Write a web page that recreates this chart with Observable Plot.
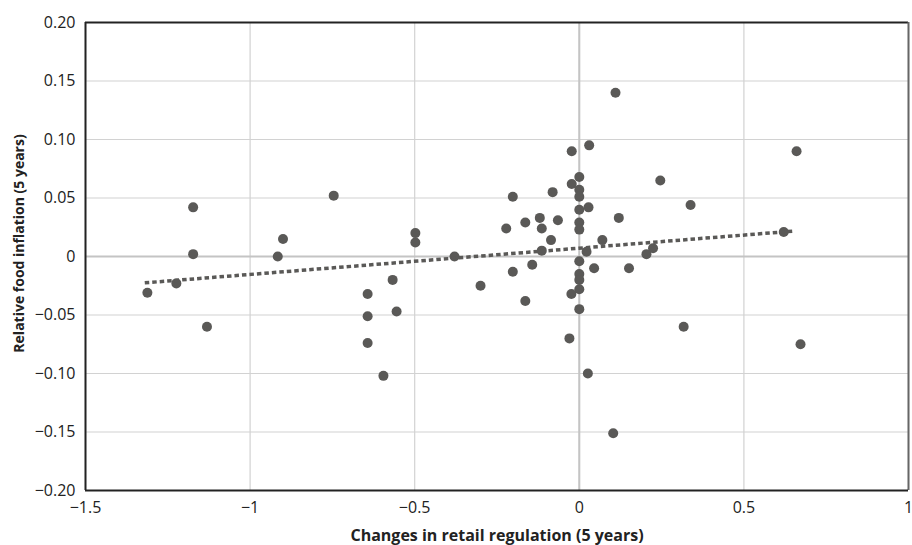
<!DOCTYPE html>
<html>
<head>
<meta charset="utf-8">
<script src="https://cdn.jsdelivr.net/npm/d3@7"></script>
<script src="https://cdn.jsdelivr.net/npm/@observablehq/plot@0.6"></script>
<style>
  html, body { margin: 0; padding: 0; background: #fff; }
  #chart { width: 912px; height: 545px; }
</style>
</head>
<body>
<div id="chart"></div>
<script>
// Changes in retail regulation (5 years)
const regChange = [
  -1.312, -1.224, -1.173, -1.173, -1.131, -0.916, -0.900, -0.746, -0.498, -0.498,
  -0.567, -0.643, -0.643, -0.643, -0.555, -0.595, -0.379, 0.110, 0.030, -0.023,
  0.660, 0.000, -0.023, 0.000, 0.000, 0.246, 0.338, -0.202, -0.081, 0.000,
  0.028, 0.120, -0.164, -0.120, -0.065, -0.222, -0.114, 0.000, 0.000, -0.086,
  0.070, -0.114, 0.022, 0.224, 0.204, 0.621, 0.000, -0.202, -0.143, 0.045,
  0.151, 0.000, 0.000, 0.000, -0.024, -0.300, -0.164, 0.000, -0.030, 0.317,
  0.672, 0.026, 0.103
];
// Relative food inflation (5 years)
const foodInflation = [
  -0.031, -0.023, 0.002, 0.042, -0.060, 0.000, 0.015, 0.052, 0.020, 0.012,
  -0.020, -0.032, -0.051, -0.074, -0.047, -0.102, 0.000, 0.140, 0.095, 0.090,
  0.090, 0.068, 0.062, 0.057, 0.051, 0.065, 0.044, 0.051, 0.055, 0.040,
  0.042, 0.033, 0.029, 0.033, 0.031, 0.024, 0.024, 0.029, 0.023, 0.014,
  0.014, 0.005, 0.004, 0.007, 0.002, 0.021, -0.004, -0.013, -0.007, -0.010,
  -0.010, -0.015, -0.020, -0.028, -0.032, -0.025, -0.038, -0.045, -0.070, -0.060,
  -0.075, -0.100, -0.151
];
// Linear trend line endpoints
const trendX = [-1.32, 0.65];
const trendY = [-0.0225, 0.0217];

const xTicks = [-1.5, -1, -0.5, 0, 0.5, 1];
const yTicks = [0.20, 0.15, 0.10, 0.05, 0, -0.05, -0.10, -0.15, -0.20];
const xLabel = "Changes in retail regulation (5 years)";
const yLabel = "Relative food inflation (5 years)";

const points = regChange.map((x, i) => ({x, y: foodInflation[i]}));
const trend = trendX.map((x, i) => ({x, y: trendY[i]}));

const fmtX = d => d3.format("")(d);
const fmtY = d => d === 0 ? "0" : d3.format(".2f")(d);

const dotColor = "#5a5957";

const chart = Plot.plot({
  width: 912,
  height: 545,
  marginLeft: 85,
  marginRight: 4,
  marginTop: 22,
  marginBottom: 55,
  style: {fontFamily: "'Open Sans', sans-serif", fontSize: "16px", color: "#222", background: "#fff"},
  x: {domain: [-1.5, 1]},
  y: {domain: [-0.2, 0.2]},
  marks: [
    Plot.gridX(xTicks, {stroke: "#d2d2d2", strokeOpacity: 1, strokeWidth: 1.2}),
    Plot.gridY(yTicks, {stroke: "#d2d2d2", strokeOpacity: 1, strokeWidth: 1.2}),
    Plot.ruleX([0], {stroke: "#c4c4c4", strokeWidth: 2}),
    Plot.ruleY([0], {stroke: "#c4c4c4", strokeWidth: 2}),
    Plot.ruleY([0.2], {stroke: "#222", strokeWidth: 2}),
    Plot.ruleX([1], {stroke: "#666", strokeWidth: 2}),
    Plot.ruleX([-1.5], {stroke: "#222", strokeWidth: 2}),
    Plot.ruleY([-0.2], {stroke: "#222", strokeWidth: 2}),
    Plot.axisX(xTicks, {tickSize: 0, tickPadding: 11, tickFormat: fmtX, label: null, fontSize: 16, fill: "#222"}),
    Plot.axisY(yTicks, {tickSize: 0, tickPadding: 10, tickFormat: fmtY, label: null, fontSize: 16, fill: "#222"}),
    Plot.dot(points, {x: "x", y: "y", r: 5, fill: dotColor, stroke: null}),
    Plot.line(trend, {x: "x", y: "y", stroke: dotColor, strokeWidth: 3.5, strokeDasharray: "4.5,3", strokeLinecap: "butt"}),
    Plot.text([xLabel], {frameAnchor: "bottom", dy: 45, textAnchor: "middle", lineAnchor: "middle", fontWeight: "bold", fontSize: 16, fill: "#222"}),
    Plot.text([yLabel], {frameAnchor: "left", dx: -66, dy: -13, textAnchor: "middle", lineAnchor: "middle", rotate: -90, fontWeight: "bold", fontSize: 14, fill: "#222"})
  ]
});
document.getElementById("chart").appendChild(chart);
</script>
</body>
</html>
